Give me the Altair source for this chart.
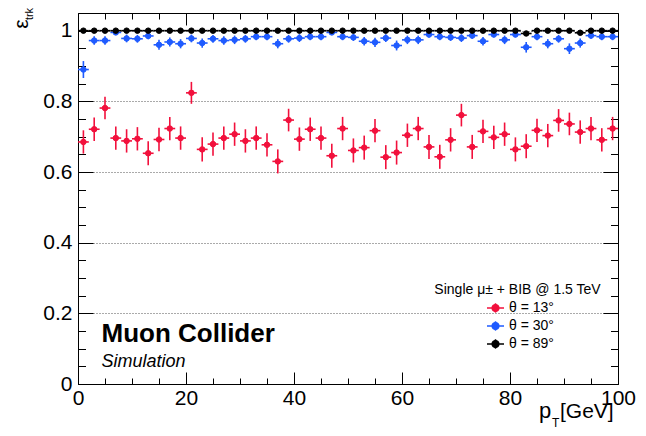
import altair as alt
import pandas as pd

FONT = "Liberation Sans"

# bin centres (GeV)
pt = [1, 3, 5, 7, 9, 11, 13, 15, 17, 19, 21, 23, 25, 27, 29, 31, 33, 35, 37, 39,
      41, 43, 45, 47, 49, 51, 53, 55, 57, 59, 61, 63, 65, 67, 69, 71, 73, 75, 77, 79,
      81, 83, 85, 87, 89, 91, 93, 95, 97, 99]

series = ["θ = 13°", "θ = 30°", "θ = 89°"]
colors = ["#f2103c", "#1f5bff", "#000000"]

eff13 = [0.685, 0.721, 0.781, 0.696, 0.688, 0.694, 0.653, 0.692, 0.723, 0.696,
         0.824, 0.664, 0.679, 0.696, 0.707, 0.688, 0.696, 0.677, 0.630, 0.747,
         0.693, 0.721, 0.696, 0.646, 0.723, 0.661, 0.669, 0.717, 0.642, 0.655,
         0.704, 0.723, 0.671, 0.643, 0.691, 0.761, 0.671, 0.715, 0.698, 0.707,
         0.664, 0.673, 0.718, 0.703, 0.746, 0.736, 0.713, 0.723, 0.691, 0.723]
err13 = [0.033, 0.033, 0.032, 0.033, 0.033, 0.033, 0.034, 0.033, 0.033, 0.033,
         0.031, 0.034, 0.033, 0.033, 0.033, 0.033, 0.033, 0.033, 0.034, 0.032,
         0.033, 0.033, 0.033, 0.034, 0.033, 0.034, 0.034, 0.033, 0.034, 0.034,
         0.033, 0.033, 0.034, 0.034, 0.033, 0.032, 0.034, 0.033, 0.033, 0.033,
         0.034, 0.034, 0.033, 0.033, 0.032, 0.032, 0.033, 0.033, 0.033, 0.033]

eff30 = [0.890, 0.972, 0.972, 0.995, 0.978, 0.977, 0.985, 0.960, 0.968, 0.963,
         0.978, 0.965, 0.977, 0.972, 0.974, 0.977, 0.983, 0.983, 0.963, 0.977,
         0.979, 0.983, 0.983, 0.995, 0.983, 0.981, 0.970, 0.967, 0.979, 0.958,
         0.974, 0.974, 0.989, 0.983, 0.981, 0.979, 0.986, 0.970, 0.989, 0.974,
         0.989, 0.953, 0.983, 0.963, 0.977, 0.949, 0.965, 0.986, 0.983, 0.983]
err30 = [0.024, 0.012, 0.012, 0.006, 0.011, 0.011, 0.009, 0.014, 0.013, 0.013,
         0.011, 0.013, 0.011, 0.012, 0.012, 0.011, 0.010, 0.010, 0.013, 0.011,
         0.011, 0.010, 0.010, 0.006, 0.010, 0.010, 0.012, 0.013, 0.011, 0.014,
         0.012, 0.012, 0.008, 0.010, 0.010, 0.011, 0.009, 0.012, 0.008, 0.012,
         0.008, 0.015, 0.010, 0.013, 0.011, 0.015, 0.013, 0.009, 0.010, 0.010]

eff89 = [1.000, 1.000, 1.000, 1.000, 1.000, 1.000, 1.000, 1.000, 1.000, 1.000,
         1.000, 1.000, 1.000, 1.000, 1.000, 1.000, 1.000, 1.000, 1.000, 1.000,
         1.000, 1.000, 1.000, 1.000, 1.000, 1.000, 1.000, 1.000, 1.000, 1.000,
         1.000, 1.000, 1.000, 1.000, 1.000, 1.000, 1.000, 1.000, 1.000, 1.000,
         1.000, 0.992, 1.000, 1.000, 1.000, 1.000, 0.994, 1.000, 1.000, 1.000]
err89 = [0.002, 0.002, 0.002, 0.002, 0.002, 0.002, 0.002, 0.002, 0.002, 0.002,
         0.002, 0.002, 0.002, 0.002, 0.002, 0.002, 0.002, 0.002, 0.002, 0.002,
         0.002, 0.002, 0.002, 0.002, 0.002, 0.002, 0.002, 0.002, 0.002, 0.002,
         0.002, 0.002, 0.002, 0.002, 0.002, 0.002, 0.002, 0.002, 0.002, 0.002,
         0.002, 0.006, 0.002, 0.002, 0.002, 0.002, 0.005, 0.002, 0.002, 0.002]

x_major = [0, 20, 40, 60, 80, 100]
x_minor = [5, 10, 15, 25, 30, 35, 45, 50, 55, 65, 70, 75, 85, 90, 95]
y_major = [0, 0.2, 0.4, 0.6, 0.8, 1.0]
y_minor = [0.05, 0.1, 0.15, 0.25, 0.3, 0.35, 0.45, 0.5, 0.55, 0.65, 0.7, 0.75,
           0.85, 0.9, 0.95]

W, H = 540, 371

rows = []
for name, eff, err in [(series[0], eff13, err13), (series[1], eff30, err30), (series[2], eff89, err89)]:
    for x, e, s in zip(pt, eff, err):
        rows.append({"pt": x, "eff": e, "err": s, "theta": name})
df = pd.DataFrame(rows)

xscale = alt.Scale(domain=[0, 100], nice=False, zero=False)
yscale = alt.Scale(domain=[0, 1.05], nice=False, zero=False)
cscale = alt.Scale(domain=series, range=colors)

base = alt.Chart(df).transform_calculate(
    lo="datum.eff - datum.err", hi="datum.eff + datum.err",
    xlo="datum.pt - 1", xhi="datum.pt + 1",
)

main_x = alt.Axis(orient="bottom", values=x_major, ticks=False, tickSize=0, grid=False,
                  title=None, labelFont=FONT, labelFontSize=21, labelColor="black",
                  labelPadding=3.5, labelFlush=False, labelOverlap=False,
                  domainColor="black", domainWidth=1)
main_y = alt.Axis(orient="left", values=y_major, ticks=False, tickSize=0, grid=True,
                  gridDash=[1, 2], gridColor="#555555", gridWidth=1, format="~g",
                  title=None, labelFont=FONT, labelFontSize=21, labelColor="black",
                  labelPadding=6, labelFlush=False, labelOverlap=False,
                  domainColor="black", domainWidth=1)

# legend symbol: marker with horizontal/vertical error bar
sym = ("M-1,0L1,0M0,-0.55L0,0.55"
       "M0.4,0L0.37,0.15L0.28,0.28L0.15,0.37L0,0.4L-0.15,0.37L-0.28,0.28L-0.37,0.15"
       "L-0.4,0L-0.37,-0.15L-0.28,-0.28L-0.15,-0.37L0,-0.4L0.15,-0.37L0.28,-0.28L0.37,-0.15Z")
leg = alt.Legend(orient="none", legendX=408, legendY=285.5, title=None,
                 symbolType=sym, symbolSize=289, symbolStrokeWidth=1.5,
                 labelFont=FONT, labelFontSize=14, labelColor="black",
                 labelOffset=4, rowPadding=0)

vbar = base.mark_rule(strokeWidth=1.6).encode(
    x=alt.X("pt:Q", scale=xscale, axis=main_x),
    y=alt.Y("lo:Q", scale=yscale, axis=main_y),
    y2="hi:Q",
    stroke=alt.Stroke("theta:N", scale=cscale, legend=leg),
)
hbar = base.mark_rule(strokeWidth=1.6).encode(
    x=alt.X("xlo:Q", scale=xscale, axis=None),
    x2="xhi:Q",
    y=alt.Y("eff:Q", scale=yscale, axis=None),
    stroke=alt.Stroke("theta:N", scale=cscale, legend=leg),
)
pts = base.mark_point(filled=True, size=30, strokeWidth=1, opacity=1).encode(
    x=alt.X("pt:Q", scale=xscale, axis=None),
    y=alt.Y("eff:Q", scale=yscale, axis=None),
    fill=alt.Fill("theta:N", scale=cscale, legend=leg),
    stroke=alt.Stroke("theta:N", scale=cscale, legend=leg),
)


def tick_layer(x_orient, y_orient, xv, yv, xs, ys):
    return base.mark_point(opacity=0).encode(
        x=alt.X("pt:Q", scale=xscale,
                axis=alt.Axis(orient=x_orient, offset=-H, values=xv, tickSize=xs,
                              ticks=True, labels=False, domain=False, grid=False,
                              title=None, tickColor="black", tickWidth=1)),
        y=alt.Y("eff:Q", scale=yscale,
                axis=alt.Axis(orient=y_orient, offset=-W, values=yv, tickSize=ys,
                              ticks=True, labels=False, domain=False, grid=False,
                              title=None, tickColor="black", tickWidth=1)),
    )


ticks = [
    tick_layer("top", "right", x_major, y_major, 12, 15),
    tick_layer("top", "right", x_minor, y_minor, 6, 7.5),
    tick_layer("bottom", "left", x_major, y_major, 12, 15),
    tick_layer("bottom", "left", x_minor, y_minor, 6, 7.5),
]


def txt(text, x, y, size, **kw):
    return alt.Chart(alt.Data(values=[{}])).mark_text(
        text=text, fontSize=size, font=FONT, color="black", **kw
    ).encode(x=alt.value(x), y=alt.value(y))


texts = [
    txt("Muon Collider", 23.5, 329, 26, fontWeight="bold", align="left", baseline="alphabetic"),
    txt("Simulation", 23.5, 354, 18, fontStyle="italic", align="left", baseline="alphabetic"),
    txt("Single μ± + BIB @ 1.5 TeV", 439.5, 281, 14, align="center", baseline="alphabetic"),
    txt("p", 461, 405, 22, align="left", baseline="alphabetic"),
    txt("T", 474, 413.5, 12, align="left", baseline="alphabetic"),
    txt("[GeV]", 482, 405, 21, align="left", baseline="alphabetic"),
    txt("ε", -56, 11, 21, angle=270, align="center", baseline="middle"),
    txt("trk", -48.5, 1, 11, angle=270, align="center", baseline="middle"),
]

chart = alt.layer(vbar, hbar, pts, *ticks, *texts).resolve_axis(
    x="independent", y="independent"
).properties(
    width=W, height=H,
    autosize=alt.AutoSizeParams(type="none"),
    padding={"left": 70, "top": 5, "right": 20, "bottom": 44},
).configure(font=FONT, background="white").configure_view(stroke="black", strokeWidth=1)

chart.save("out.html", embed_options={"renderer": "svg", "actions": False})
